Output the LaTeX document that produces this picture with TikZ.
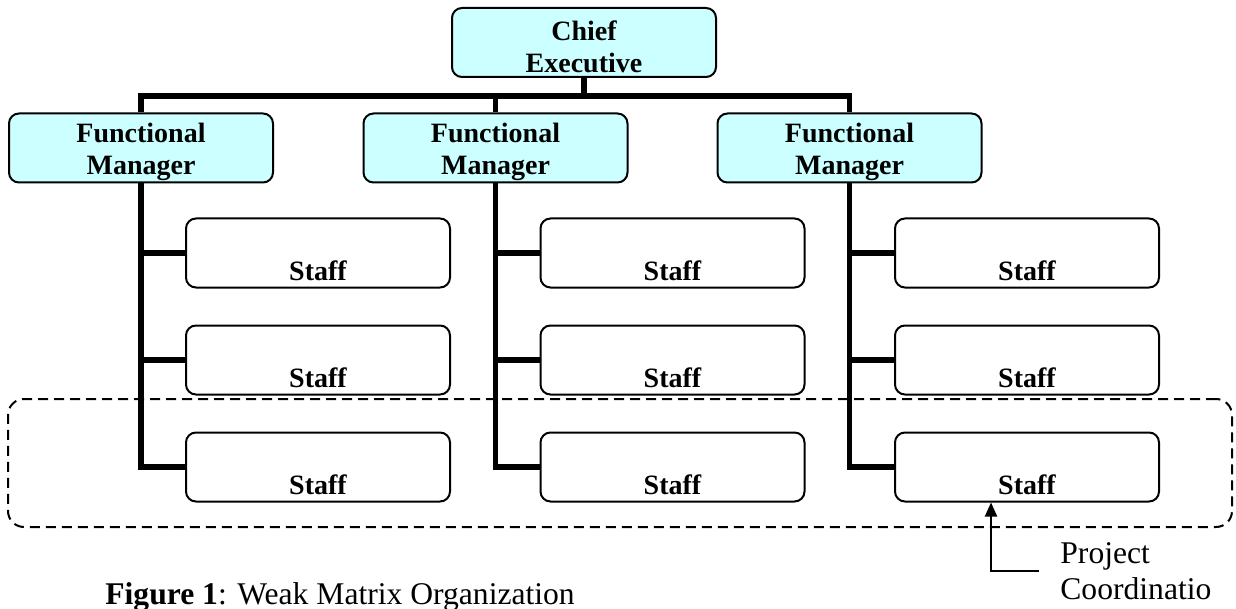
\documentclass[tikz,border=0pt]{standalone}
\usepackage{fontspec}
\setmainfont{Liberation Serif}
\usepackage{xcolor}
\usepackage{tikz}
\usetikzlibrary{calc}
\usetikzlibrary{arrows.meta}
\definecolor{boxcyan}{HTML}{CCFFFF}
\newcommand{\tstrut}{\rule{0pt}{14pt}}

\begin{document}
\begin{tikzpicture}[x=0.5pt, y=-0.5pt,
        topbox/.style={draw, line width=1pt, rounded corners=5pt, fill=boxcyan, minimum width=132pt, minimum height=34.5pt, inner sep=0pt, align=center, font=\fontsize{14}{16}\selectfont\bfseries},
        staffbox/.style={draw, line width=1pt, rounded corners=5pt, minimum width=132pt, inner sep=0pt, text height=31pt, text depth=3.5pt, font=\fontsize{14}{16}\selectfont\bfseries},
        conn/.style={line width=2.9pt}]
        \useasboundingbox (0,0) rectangle (1236,609);
        %PROJECT BAND
        \node[draw, dashed, line width=1pt, dash pattern=on 5pt off 3pt, rounded corners=8pt, minimum width=612pt, minimum height=64pt] (band) at (620,463) {};
        %TOP BOXES
        \node[topbox] (chief) at (584,42.5) {\tstrut Chief\\Executive};
        \node[topbox] (fm1) at (141,148) {\tstrut Functional\\Manager};
        \node[topbox] (fm2) at (495.5,148) {\tstrut Functional\\Manager};
        \node[topbox] (fm3) at (849.5,148) {\tstrut Functional\\Manager};
        %STAFF BOXES
        \node[staffbox] (s11) at (318,253) {Staff};
        \node[staffbox] (s12) at (318,360) {Staff};
        \node[staffbox] (s13) at (318,467) {Staff};
        \node[staffbox] (s21) at (672.5,253) {Staff};
        \node[staffbox] (s22) at (672.5,360) {Staff};
        \node[staffbox] (s23) at (672.5,467) {Staff};
        \node[staffbox] (s31) at (1027,253) {Staff};
        \node[staffbox] (s32) at (1027,360) {Staff};
        \node[staffbox] (s33) at (1027,467) {Staff};
        %CHIEF LINES
        \draw[conn] (chief.south) -- ++(0,18) -| (fm1.north);
        \draw[conn] (chief.south) -- ++(0,18) -| (fm2.north);
        \draw[conn] (chief.south) -- ++(0,18) -| (fm3.north);
        %MANAGER LINES
        \draw[conn] (fm1.south) |- (s13.west);
        \draw[conn] (fm1.south |- s11.west) -- (s11.west);
        \draw[conn] (fm1.south |- s12.west) -- (s12.west);
        \draw[conn] (fm2.south) |- (s23.west);
        \draw[conn] (fm2.south |- s21.west) -- (s21.west);
        \draw[conn] (fm2.south |- s22.west) -- (s22.west);
        \draw[conn] (fm3.south) |- (s33.west);
        \draw[conn] (fm3.south |- s31.west) -- (s31.west);
        \draw[conn] (fm3.south |- s32.west) -- (s32.west);
        %LABELS
        \node[anchor=west, inner xsep=10.5pt, inner ysep=0pt, align=left, font=\fontsize{15.8}{18}\selectfont] (pc) at (1039,571) {Project\\Coordinatio};
        \draw[line width=1pt, -{Triangle[width=6pt, length=7pt]}] (pc.west) -| ([xshift=-18pt]s33.south);
        \node[anchor=base west, inner sep=0pt, font=\fontsize{15.8}{18}\selectfont] (cap) at (105,604) {\textbf{Figure 1}: Weak Matrix Organization};
    \end{tikzpicture}
\end{document}
